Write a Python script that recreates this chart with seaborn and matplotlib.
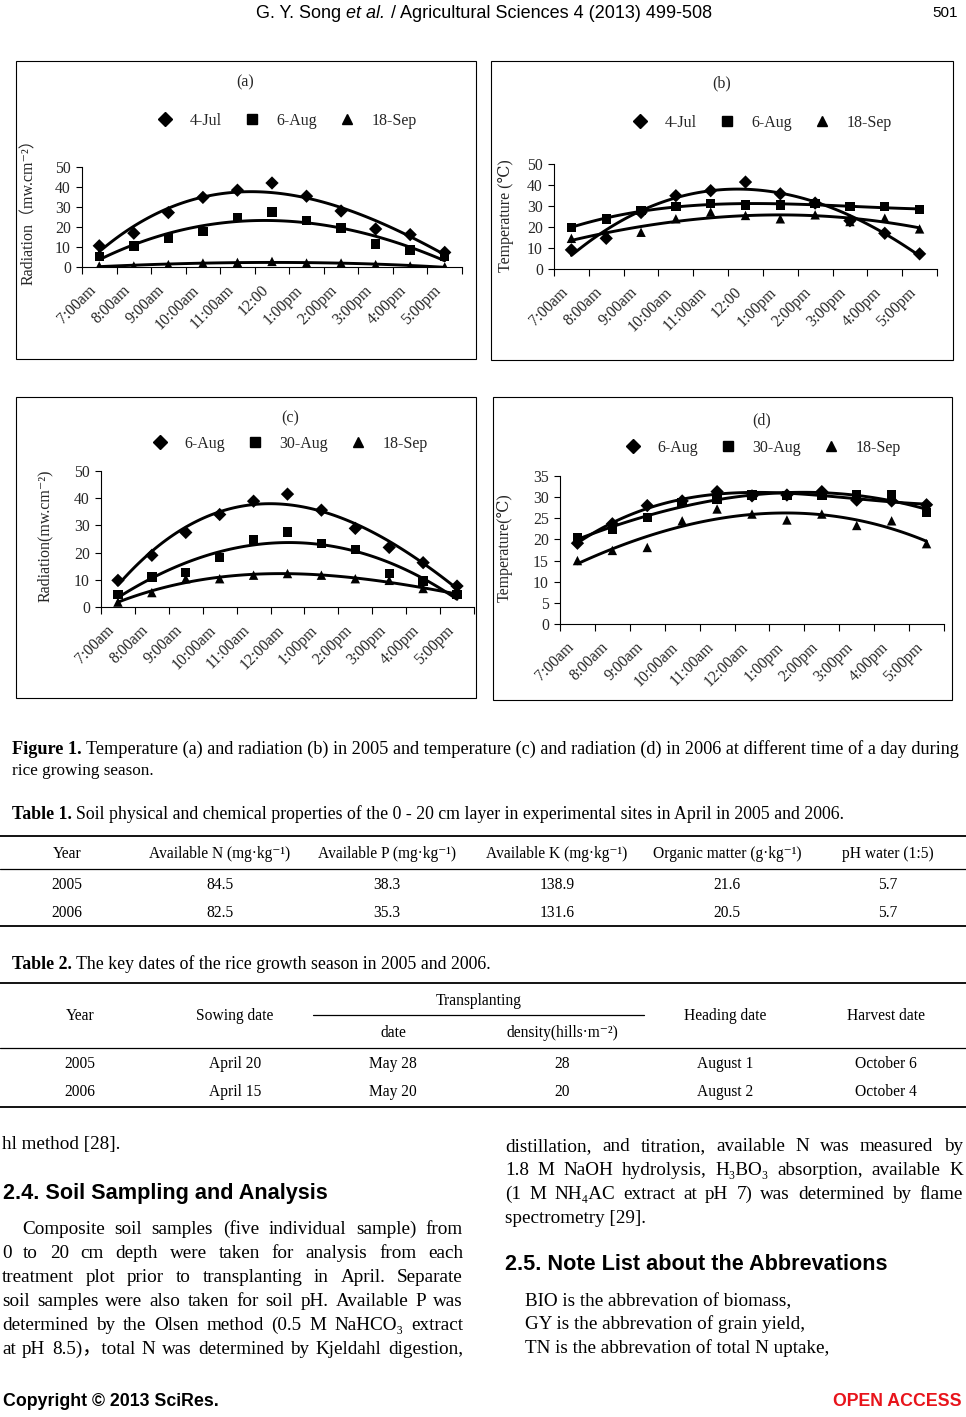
import numpy as np
import pandas as pd
import seaborn as sns
import matplotlib
matplotlib.use('Agg')
import matplotlib.pyplot as plt
from matplotlib.lines import Line2D
from matplotlib.patches import Rectangle
from matplotlib import transforms, font_manager

# ---- data ----
times_2005 = ['7:00am', '8:00am', '9:00am', '10:00am', '11:00am', '12:00',
              '1:00pm', '2:00pm', '3:00pm', '4:00pm', '5:00pm']
times_2006 = ['7:00am', '8:00am', '9:00am', '10:00am', '11:00am', '12:00am',
              '1:00pm', '2:00pm', '3:00pm', '4:00pm', '5:00pm']

dates_2005 = ['4-Jul', '6-Aug', '18-Sep']
dates_2006 = ['6-Aug', '30-Aug', '18-Sep']

# (a) radiation 2005
rad05_jul4 = [10.6, 16.9, 27.2, 34.8, 38.4, 42.0, 35.4, 28.0, 19.0, 16.2, 7.3]
rad05_aug6 = [5.3, 10.6, 14.4, 17.7, 24.7, 27.6, 23.2, 19.4, 11.4, 8.6, 5.3]
rad05_sep18 = [0.5, 0.5, 1.2, 2.0, 2.3, 2.8, 2.0, 2.0, 1.2, 0.5, 0.1]
# (b) temperature 2005
tmp05_jul4 = [9.1, 14.6, 26.9, 34.9, 37.3, 41.4, 35.8, 31.4, 23.0, 17.0, 7.2]
tmp05_aug6 = [19.9, 23.9, 27.9, 29.8, 31.1, 30.4, 30.4, 31.1, 29.8, 29.8, 28.2]
tmp05_sep18 = [14.6, 16.5, 17.5, 23.9, 27.1, 25.5, 23.9, 25.8, 22.6, 24.2, 19.1]
# (c) radiation 2006
rad06_aug6 = [9.8, 19.0, 27.4, 34.0, 38.9, 41.5, 35.6, 28.9, 21.9, 16.3, 7.7]
rad06_aug30 = [4.7, 11.1, 12.7, 18.2, 24.9, 27.6, 23.3, 21.1, 12.3, 9.6, 4.7]
rad06_sep18 = [1.8, 5.3, 10.4, 10.4, 11.7, 12.3, 11.7, 10.4, 9.8, 6.8, 4.7]
# (d) temperature 2006
tmp06_aug6 = [19.1, 23.7, 28.0, 29.1, 31.3, 30.3, 30.5, 31.3, 29.3, 29.1, 28.2]
tmp06_aug30 = [20.3, 22.4, 25.2, 28.8, 29.6, 30.5, 30.4, 30.4, 30.5, 30.5, 26.4]
tmp06_sep18 = [15.0, 17.4, 18.1, 24.4, 27.2, 26.0, 24.6, 26.0, 23.3, 24.4, 19.0]

# tables
t1_header = ['Year', 'Available N (mg·kg⁻¹)', 'Available P (mg·kg⁻¹)',
             'Available K (mg·kg⁻¹)', 'Organic matter (g·kg⁻¹)', 'pH water (1:5)']
t1_rows = [['2005', '84.5', '38.3', '138.9', '21.6', '5.7'],
           ['2006', '82.5', '35.3', '131.6', '20.5', '5.7']]
t2_rows = [['2005', 'April 20', 'May 28', '28', 'August 1', 'October 6'],
           ['2006', 'April 15', 'May 20', '20', 'August 2', 'October 4']]

# ---- setup ----
sns.set_style('white')
SERIF = ['Liberation Serif', 'DejaVu Serif', 'Noto Sans CJK SC']
SANS = ['Liberation Sans', 'DejaVu Sans']
installed = {f.name for f in font_manager.fontManager.ttflist}
NARROW = ['Liberation Sans Narrow', 'Liberation Sans'] if 'Liberation Sans Narrow' in installed else SANS
plt.rcParams['font.family'] = SERIF

W, H, DPI = 966, 1417, 100
fig = plt.figure(figsize=(W / DPI, H / DPI), dpi=DPI)
fig.patch.set_facecolor('white')
renderer = fig.canvas.get_renderer()


def add_axes(x0, y0, x1, y1):
    return fig.add_axes([x0 / W, 1 - y1 / H, (x1 - x0) / W, (y1 - y0) / H])


def base(y, size):
    return 1 - (y + 0.32 * size * DPI / 72) / H


def make(x, y, s, size, ha='left', weight='normal', family=None, color='black', style='normal'):
    return fig.text(x / W, base(y, size), s, fontsize=size, ha=ha, va='baseline',
                    fontweight=weight, family=family or SERIF, color=color, fontstyle=style)


def width(t):
    return t.get_window_extent(renderer).width


def line(x, y, parts, size, x1=None, fit=None, align='left'):
    objs = [make(0, y, s, size, **kw) for s, kw in parts]
    if fit is not None:
        size = size * fit / sum(width(o) for o in objs)
        for o in objs:
            o.set_fontsize(size)
            o.set_y(base(y, size))
    ws = [width(o) for o in objs]
    gap = 0
    if x1 is not None and len(objs) > 1:
        gap = (x1 - x - sum(ws)) / (len(objs) - 1)
    total = sum(ws) + gap * (len(objs) - 1)
    start = {'left': x, 'right': x - total, 'center': x - total / 2}[align]
    for o, w in zip(objs, ws):
        o.set_x(start / W)
        start += w + gap
    return size


def words(s, **kw):
    return [(w, kw) for w in s.split()]


def hrule(y, x0=0, x1=W, lw=1.0):
    fig.add_artist(Line2D([x0 / W, x1 / W], [1 - y / H] * 2, color='black', lw=lw))


MARKERS = ['D', 's', '^']


def draw_panel(frame, axbox, times, series, names, ymax, ystep, ylabel, ylab_pos, tag, tag_pos, leg_pos):
    x0, y0, x1, y1 = frame
    fig.add_artist(Rectangle((x0 / W, 1 - y1 / H), (x1 - x0) / W, (y1 - y0) / H,
                             transform=fig.transFigure, fill=False, ec='black', lw=0.8))
    ax = add_axes(*axbox)
    ax.set_facecolor('none')
    n = len(times)
    df = pd.DataFrame({'t': np.tile(np.arange(n), len(series)),
                       'v': np.concatenate(series),
                       'grp': np.repeat(names, n)})
    # Excel-style polynomial trend lines
    for name in names:
        sns.regplot(data=df[df.grp == name], x='t', y='v', order=3, ci=None, scatter=False,
                    ax=ax, line_kws=dict(color='black', lw=2.1))
    sns.scatterplot(data=df, x='t', y='v', style='grp', markers=dict(zip(names, MARKERS)),
                    color='black', s=46, linewidth=0, legend=False, ax=ax, zorder=3)
    ax.set_xlim(-0.5, n - 0.5)
    ax.set_ylim(0, ymax)
    ax.set_xlabel('')
    ax.set_ylabel('')
    ax.set_xticks(range(n))
    ax.set_xticklabels(times, rotation=45, ha='right', va='center', rotation_mode='anchor', fontsize=11.3)
    ax.set_xticks(np.arange(-0.5, n), minor=True)
    ax.tick_params(axis='x', which='major', length=0, pad=15, bottom=True)
    ax.tick_params(axis='x', which='minor', length=5, width=0.8, color='black', direction='out', bottom=True)
    ax.set_yticks(np.arange(0, ymax + 0.1, ystep))
    ax.tick_params(axis='y', length=4, width=0.8, color='black', direction='out', left=True,
                   labelsize=11.3, pad=4)
    shift = transforms.ScaledTranslation(-6 / DPI, 0, fig.dpi_scale_trans)
    for lbl in ax.get_xticklabels():
        lbl.set_transform(lbl.get_transform() + shift)
    for side in ['top', 'right']:
        ax.spines[side].set_visible(False)
    for side in ['left', 'bottom']:
        ax.spines[side].set_color('black')
        ax.spines[side].set_linewidth(0.8)
    fig.text(ylab_pos[0] / W, 1 - ylab_pos[1] / H, ylabel, rotation=90, ha='center', va='center',
             fontsize=11.5, family=SERIF)
    fig.text(tag_pos[0] / W, 1 - tag_pos[1] / H, tag, ha='center', va='center', fontsize=11.5)
    handles = [Line2D([], [], marker=m, ls='', color='black', markersize=6.8) for m in MARKERS]
    fig.legend(handles, names, loc='center', bbox_to_anchor=(leg_pos[0] / W, 1 - leg_pos[1] / H),
               ncol=3, frameon=False, handlelength=1, handletextpad=1.05, columnspacing=1.35,
               fontsize=11.5, borderpad=0, borderaxespad=0)
    return ax


draw_panel((16, 61, 476, 359), (82, 167, 462, 267), times_2005,
           [rad05_jul4, rad05_aug6, rad05_sep18], dates_2005, 50, 10,
           'Radiation（mw.cm⁻²）', (29, 208), '(a)', (245, 82), (287, 121))
draw_panel((491, 61, 953, 360), (554, 164, 937, 269), times_2005,
           [tmp05_jul4, tmp05_aug6, tmp05_sep18], dates_2005, 50, 10,
           'Temperature (℃)', (506, 216), '(b)', (722, 83), (762, 123))
draw_panel((16, 397, 476, 698), (101, 471, 474, 607), times_2006,
           [rad06_aug6, rad06_aug30, rad06_sep18], dates_2006, 50, 10,
           'Radiation(mw.cm⁻²)', (45, 536), '(c)', (290, 418), (290, 444))
draw_panel((493, 397, 952, 700), (560, 476, 944, 624), times_2006,
           [tmp06_aug6, tmp06_aug30, tmp06_sep18], dates_2006, 35, 5,
           'Temperature(℃)', (505, 548), '(d)', (762, 420), (763, 448))

# ---- running header ----
line(484, 12, [('G. Y. Song ', dict(family=NARROW)), ('et al.', dict(family=NARROW, style='italic')),
               (' / Agricultural Sciences 4 (2013) 499-508', dict(family=NARROW))],
     11, fit=455, align='center')
line(958, 12, [('501', dict(family=NARROW))], 11, align='right')

# ---- caption ----
line(12, 748, [('Figure 1. ', dict(weight='bold')),
               ('Temperature (a) and radiation (b) in 2005 and temperature (c) and radiation (d) '
                'in 2006 at different time of a day during', {})], 12, fit=946)
line(12, 770, [('rice growing season.', {})], 12.3)

# ---- table 1 ----
TAB = 11.2
line(12, 813, [('Table 1. ', dict(weight='bold')),
               ('Soil physical and chemical properties of the 0 - 20 cm layer in experimental sites '
                'in April in 2005 and 2006.', {})], 11, fit=832)
t1_x = [67, 220, 387, 557, 727, 888]
hrule(836, lw=1.3)
for x, s in zip(t1_x, t1_header):
    make(x, 853, s, TAB, ha='center')
hrule(869, lw=0.9)
for row, y in zip(t1_rows, [884, 912]):
    for x, s in zip(t1_x, row):
        make(x, y, s, TAB, ha='center')
hrule(926, lw=1.3)

# ---- table 2 ----
line(12, 963, [('Table 2. ', dict(weight='bold')),
               ('The key dates of the rice growth season in 2005 and 2006.', {})], 11, fit=476)
t2_x = [80, 235, 393, 562, 725, 886]
hrule(983, lw=1.3)
make(479, 1000, 'Transplanting', TAB, ha='center')
hrule(1015, 313, 644, lw=0.9)
for x, s in zip([80, 235, 725, 886], ['Year', 'Sowing date', 'Heading date', 'Harvest date']):
    make(x, 1015, s, TAB, ha='center')
make(393, 1032, 'date', TAB, ha='center')
make(562, 1032, 'density(hills·m⁻²)', TAB, ha='center')
hrule(1048, lw=0.9)
for row, y in zip(t2_rows, [1063, 1091]):
    for x, s in zip(t2_x, row):
        make(x, y, s, TAB, ha='center')
hrule(1107, lw=1.3)

# ---- body text ----
BODY = 13.8
line(2, 1143, [('hl method [28].', {})], BODY)
head = line(3, 1192, [('2.4. Soil Sampling and Analysis', dict(weight='bold', family=SANS))], 14, fit=326)
left_lines = [
    (22, 'Composite soil samples (five individual sample) from'),
    (2, '0 to 20 cm depth were taken for analysis from each'),
    (2, 'treatment plot prior to transplanting in April. Separate'),
    (2, 'soil samples were also taken for soil pH. Available P was'),
    (2, 'determined by the Olsen method (0.5 M NaHCO₃ extract'),
    (2, 'at pH 8.5)，total N was determined by Kjeldahl digestion,'),
]
for (x, s), y in zip(left_lines, [1228, 1252, 1276, 1300, 1324, 1348]):
    line(x, y, words(s), BODY, x1=463)

right_lines = [
    'distillation, and titration, available N was measured by',
    '1.8 M NaOH hydrolysis, H₃BO₃ absorption, available K',
    '(1 M NH₄AC extract at pH 7) was determined by flame',
]
for s, y in zip(right_lines, [1145, 1169, 1193]):
    line(505, y, words(s), BODY, x1=963)
line(505, 1217, [('spectrometry [29].', {})], BODY)
line(505, 1263, [('2.5. Note List about the Abbrevations', dict(weight='bold', family=SANS))], head)
for s, y in zip(['BIO is the abbrevation of biomass,', 'GY is the abbrevation of grain yield,',
                 'TN is the abbrevation of total N uptake,'], [1300, 1323, 1347]):
    line(525, y, [(s, {})], BODY)

# ---- footer ----
line(3, 1400, [('Copyright © 2013 SciRes.', dict(weight='bold', family=NARROW))], 11, fit=215)
line(962, 1400, [('OPEN ACCESS', dict(weight='bold', family=NARROW, color='#e8141b'))], 11,
     fit=128, align='right')

fig.savefig('out.png', dpi=DPI, facecolor='white')
